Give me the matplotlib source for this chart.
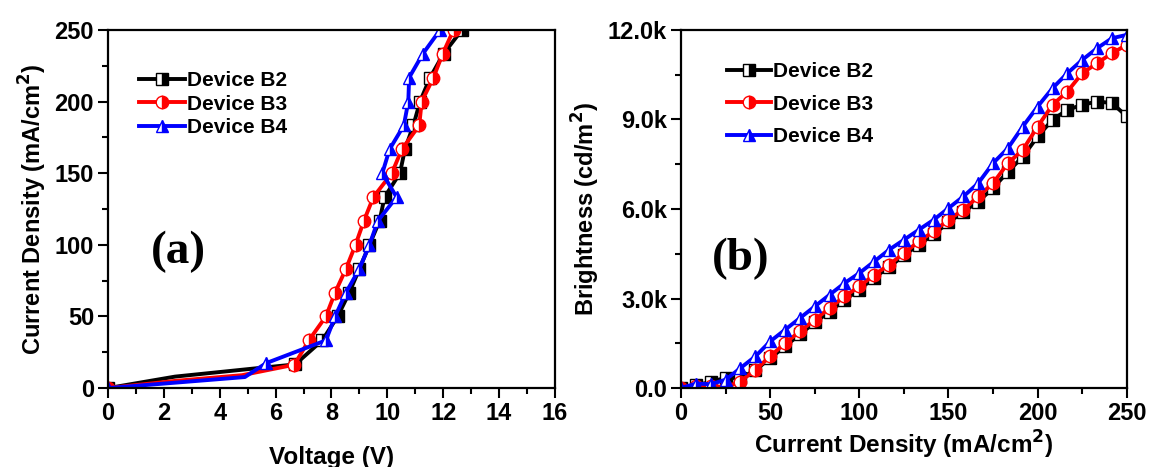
import matplotlib.pyplot as plt
from matplotlib.ticker import MultipleLocator, FuncFormatter

plt.rcParams['font.family'] = ['Liberation Sans', 'DejaVu Sans']
plt.rcParams['font.weight'] = 'bold'
plt.rcParams['mathtext.default'] = 'bf'

# (a) J-V curves
v_b2 = [0, 2.4, 5.4, 6.7, 7.67, 8.22, 8.64, 9.0, 9.36, 9.72, 9.9, 10.45, 10.63, 10.93, 11.17, 11.53, 12.01, 12.67]
j_b2 = [0, 8, 14, 16.5, 33.3, 50, 66.7, 83.3, 100, 116.7, 133.3, 150, 166.7, 183.3, 200, 216.7, 233.3, 250]
v_b3 = [0, 2.4, 4.8, 6.67, 7.19, 7.8, 8.13, 8.52, 8.86, 9.16, 9.5, 10.16, 10.52, 11.14, 11.23, 11.65, 11.98, 12.37]
j_b3 = [0, 5, 9, 16.3, 33.3, 50, 66.7, 83.3, 100, 116.7, 133.3, 150, 166.7, 183.3, 200, 216.7, 233.3, 250]
v_b4 = [0, 4.9, 5.66, 7.8, 8.13, 8.52, 9.0, 9.36, 9.66, 10.33, 9.82, 10.08, 10.59, 10.75, 10.78, 11.27, 11.89]
j_b4 = [0, 7.7, 17.4, 33.3, 50, 66.7, 83.3, 100, 116.7, 133.3, 150, 166.7, 183.3, 200, 216.7, 233.3, 250]
# points drawn as line vertices only (no symbol visible in the source)
skip_b2 = [1, 2]
skip_b3 = [1, 2]
skip_b4 = [1]

# (b) brightness vs current density
j_grid = [k * 250 / 30 for k in range(31)]
l_b2 = [0, 100, 200, 350, 330, 600, 1000, 1400, 1800, 2200, 2560, 2950, 3300, 3700, 4050, 4450,
        4800, 5150, 5550, 5900, 6250, 6700, 7250, 7750, 8430, 8990, 9320, 9490, 9600, 9550, 9100]
l_b3 = [0, 80, 60, 30, 220, 614, 1060, 1507, 1898, 2288, 2679, 3070, 3405, 3795, 4130, 4521,
        4912, 5247, 5637, 5972, 6419, 6865, 7535, 7981, 8763, 9488, 9935, 10549, 10884, 11219, 11498]
l_b4 = [0, 150, 130, 280, 670, 1060, 1563, 1953, 2344, 2735, 3126, 3516, 3851, 4242, 4633, 4967,
        5302, 5637, 6028, 6419, 6865, 7535, 8037, 8763, 9433, 10047, 10549, 10995, 11386, 11721, 11833]

labels = ['Device B2', 'Device B3', 'Device B4']
colors = ['black', 'red', 'blue']
markers = ['s', 'o', '^']

fig = plt.figure(figsize=(11.49, 4.67), dpi=100)
ax1 = fig.add_axes([0.094, 0.169, 0.389, 0.767])
ax2 = fig.add_axes([0.5927, 0.169, 0.388, 0.767])


def draw(ax, xs, ys, skips):
    for x, y, sk, lab, c, m in zip(xs, ys, skips, labels, colors, markers):
        every = [i for i in range(len(x)) if i not in sk]
        ax.plot(x, y, color=c, lw=2.8, marker=m, ms=9, fillstyle='right',
                markerfacecolor=c, markerfacecoloralt='white', markeredgecolor=c,
                markeredgewidth=1.0, markevery=every, label=lab)


draw(ax1, [v_b2, v_b3, v_b4], [j_b2, j_b3, j_b4], [skip_b2, skip_b3, skip_b4])
draw(ax2, [j_grid] * 3, [l_b2, l_b3, l_b4], [[], [], []])

for ax in (ax1, ax2):
    for s in ax.spines.values():
        s.set_linewidth(1.6)
    ax.tick_params(which='both', direction='out', width=1.5, labelsize=17,
                   top=False, right=False, pad=3)
    ax.tick_params(which='major', length=7)
    ax.tick_params(which='minor', length=4.5)

ax1.set_xlim(0, 16)
ax1.set_ylim(0, 250)
ax1.xaxis.set_major_locator(MultipleLocator(2))
ax1.xaxis.set_minor_locator(MultipleLocator(1))
ax1.yaxis.set_major_locator(MultipleLocator(50))
ax1.yaxis.set_minor_locator(MultipleLocator(25))
ax1.set_xlabel('Voltage (V)', fontsize=17.5, fontweight='bold', labelpad=15)
ax1.set_ylabel('Current Density (mA/cm$^2$)', fontsize=17, fontweight='bold', labelpad=4)
ax1.text(0.095, 0.35, '(a)', transform=ax1.transAxes, fontsize=34, fontweight='bold',
         family='Liberation Serif')
ax1.legend(loc='upper left', bbox_to_anchor=(0.07, 0.885), frameon=False,
           handlelength=2.2, handletextpad=0.1, labelspacing=0.22, borderaxespad=0,
           borderpad=0, prop={'weight': 'bold', 'size': 15})

ax2.set_xlim(0, 250)
ax2.set_ylim(0, 12000)
ax2.xaxis.set_major_locator(MultipleLocator(50))
ax2.xaxis.set_minor_locator(MultipleLocator(25))
ax2.yaxis.set_major_locator(MultipleLocator(3000))
ax2.yaxis.set_minor_locator(MultipleLocator(1500))
ax2.yaxis.set_major_formatter(FuncFormatter(lambda v, p: '0.0' if v == 0 else f'{v / 1000:.1f}k'))
ax2.set_xlabel('Current Density (mA/cm$^2$)', fontsize=17.5, fontweight='bold', labelpad=3)
ax2.set_ylabel('Brightness (cd/m$^2$)', fontsize=17, fontweight='bold', labelpad=4)
ax2.text(0.07, 0.33, '(b)', transform=ax2.transAxes, fontsize=34, fontweight='bold',
         family='Liberation Serif')
ax2.legend(loc='upper left', bbox_to_anchor=(0.103, 0.91), frameon=False,
           handlelength=2.1, handletextpad=0.1, labelspacing=0.65, borderaxespad=0,
           borderpad=0, prop={'weight': 'bold', 'size': 15})

fig.savefig('out.png', dpi=100)
